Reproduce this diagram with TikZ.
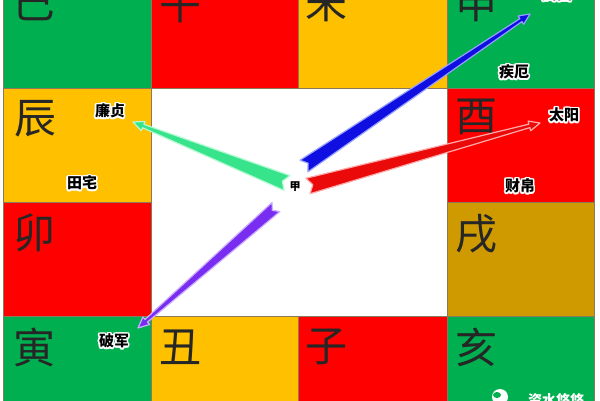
\documentclass[tikz,border=0pt]{standalone}
\usepackage{fontspec}
\newfontfamily\cjk{Noto Sans CJK SC}
\usetikzlibrary{calc}
\definecolor{cgreen}{RGB}{0,176,80}
\definecolor{cred}{RGB}{255,0,0}
\definecolor{cgold}{RGB}{255,192,0}
\definecolor{cdgold}{RGB}{206,154,0}
\definecolor{gline}{RGB}{140,120,90}
\definecolor{ablue}{RGB}{15,15,225}
\definecolor{ablueL}{RGB}{150,160,255}
\definecolor{ared}{RGB}{235,10,10}
\definecolor{aredL}{RGB}{255,170,170}
\definecolor{agreen}{RGB}{55,228,140}
\definecolor{agreenL}{RGB}{180,250,210}
\definecolor{apurple}{RGB}{120,45,240}
\definecolor{apurpleL}{RGB}{205,175,255}
\newcommand{\tarrow}[6]{%
  \coordinate (#1h) at ($(#5)!11pt!(#4)$);
  \coordinate (#1n) at ($(#4)!5pt!(#5)$);
  \filldraw[fill=#2, draw=#3, line width=1.2pt, line join=round]
    ($(#4)!#6!90:(#5)$) -- ($(#1h)!1.8pt!90:(#5)$) -- ($(#1h)!5pt!90:(#5)$) -- (#5)
    -- ($(#1h)!5pt!-90:(#5)$) -- ($(#1h)!1.8pt!-90:(#5)$) -- ($(#4)!#6!-90:(#5)$)
    -- (#1n) -- cycle;}
\newcommand{\halo}[4][lab]{%
  \foreach \a in {0,30,...,330} \node[#1, text=white] at ($(#3)+(\a:1.6)$) {#4};
  \node[#1] (#2) at (#3) {#4};}
\begin{document}
\begin{tikzpicture}[x=1pt,y=-1pt,
  cell/.style={draw=gline, line width=0.6pt},
  branch/.style={inner sep=0pt, font=\cjk\fontsize{42}{42}\selectfont, text=black!85},
  lab/.style={inner sep=0pt, font=\cjk\bfseries\fontsize{15}{15}\selectfont, text=black},
  slab/.style={inner sep=0pt, font=\cjk\bfseries\fontsize{11}{11}\selectfont, text=black}]
\useasboundingbox (0,0) rectangle (600,400);
\fill[white] (0,0) rectangle (600,400);
% row 1
\filldraw[cell, fill=cgreen] (3,-26) rectangle (151,88);
\filldraw[cell, fill=cred]   (151,-26) rectangle (298,88);
\filldraw[cell, fill=cgold]  (298,-26) rectangle (447,88);
\filldraw[cell, fill=cgreen] (447,-26) rectangle (594,88);
% row 2
\filldraw[cell, fill=cgold]  (3,88) rectangle (151,202);
\filldraw[cell, fill=cred]   (447,88) rectangle (594,202);
% row 3
\filldraw[cell, fill=cred]   (3,202) rectangle (151,316);
\filldraw[cell, fill=cdgold] (447,202) rectangle (594,316);
% row 4
\filldraw[cell, fill=cgreen] (3,316) rectangle (151,430);
\filldraw[cell, fill=cgold]  (151,316) rectangle (298,430);
\filldraw[cell, fill=cred]   (298,316) rectangle (447,430);
\filldraw[cell, fill=cgreen] (447,316) rectangle (594,430);
% branches
\node[branch] (si)   at (34,3)    {巳};
\node[branch] (wu)   at (180,3)   {午};
\node[branch] (wei)  at (326,3)   {未};
\node[branch] (shen) at (476,3)   {申};
\node[branch] (chen) at (35,119)  {辰};
\node[branch] (you)  at (476,117) {酉};
\node[branch] (mao)  at (34,233)  {卯};
\node[branch] (xu)   at (476,234) {戌};
\node[branch] (yin)  at (34,347)  {寅};
\node[branch] (chou) at (180,347) {丑};
\node[branch] (zi)   at (326,347) {子};
\node[branch] (hai)  at (476,347) {亥};
% arrows
\coordinate (bT) at (304,166); \coordinate (bP) at (530,14);
\coordinate (rT) at (308,186); \coordinate (rP) at (540,123);
\coordinate (gT) at (287,183); \coordinate (gP) at (133,122);
\coordinate (pT) at (276,207); \coordinate (pP) at (138,328);
\tarrow{ba}{ablue}{ablueL}{bT}{bP}{7pt}
\tarrow{ra}{ared}{aredL}{rT}{rP}{8pt}
\tarrow{ga}{agreen}{agreenL}{gT}{gP}{8pt}
\tarrow{pa}{apurple}{apurpleL}{pT}{pP}{6pt}
% labels
\halo{lianzhen}{110,111}{廉贞}
\halo{tianzhai}{82,183}{田宅}
\halo{jie}{514,72}{疾厄}
\halo{taiyang}{564,115}{太阳}
\halo{caibo}{520,186}{财帛}
\halo{pojun}{114,341}{破军}
\halo{wuqu}{557,-6}{武曲}
\halo[slab]{jia}{295,187}{甲}
% watermark
\fill[white] (500,397) circle (8);
\fill[cgreen] (497,395) ellipse (4 and 3);
\node[inner sep=0pt, font=\cjk\bfseries\fontsize{14}{14}\selectfont, text=white] (wm) at (556,400) {资水悠悠};
\end{tikzpicture}
\end{document}
